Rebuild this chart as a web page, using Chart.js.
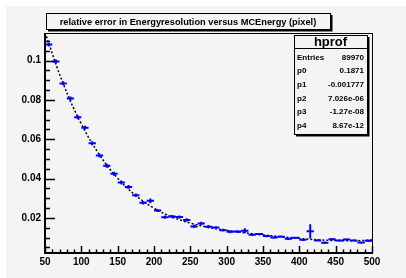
<!DOCTYPE html>
<html>
<head>
<meta charset="utf-8">
<script src="https://cdn.jsdelivr.net/npm/chart.js@4/dist/chart.umd.min.js"></script>
<style>
  body { margin: 0; background: #fff; }
  canvas { display: block; }
</style>
</head>
<body>
<canvas id="myChart" width="406" height="278"></canvas>
<script>
// profile bins (MC energy, pixel) and relative error
const binCenters = [55, 65, 75, 85, 95, 105, 115, 125, 135, 145, 155, 165, 175, 185, 195,
  205, 215, 225, 235, 245, 255, 265, 275, 285, 295, 305, 315, 325, 335, 345,
  355, 365, 375, 385, 395, 405, 415, 425, 435, 445, 455, 465, 475, 485, 495];
const relErr = [0.1082, 0.0995, 0.0884, 0.0807, 0.0712, 0.0659, 0.0580, 0.0517, 0.0465, 0.0425,
  0.0380, 0.0358, 0.0315, 0.0277, 0.0287, 0.0238, 0.0204, 0.0207, 0.0205, 0.0190,
  0.0157, 0.0172, 0.0156, 0.0151, 0.0138, 0.0130, 0.0131, 0.0135, 0.0115, 0.0118,
  0.0108, 0.0101, 0.0105, 0.0094, 0.0099, 0.0089, 0.0132, 0.0086, 0.0074, 0.0092,
  0.0086, 0.0091, 0.0086, 0.0075, 0.0084];
const relErrErr = [0.0010, 0.0010, 0.0010, 0.0010, 0.0010, 0.0010, 0.0010, 0.0010, 0.0010, 0.0010,
  0.0010, 0.0010, 0.0009, 0.0009, 0.0012, 0.0008, 0.0008, 0.0008, 0.0008, 0.0008,
  0.0008, 0.0009, 0.0008, 0.0007, 0.0007, 0.0007, 0.0007, 0.0013, 0.0006, 0.0006,
  0.0006, 0.0006, 0.0006, 0.0006, 0.0006, 0.0006, 0.0036, 0.0006, 0.0006, 0.0006,
  0.0006, 0.0006, 0.0006, 0.0006, 0.0006];
const binHalfWidth = 5;

// pol4 fit curve
const fitX = [50, 75, 100, 125, 150, 175, 200, 225, 250, 275, 300, 325, 350, 375, 400, 425, 450, 475, 500];
const fitY = [0.1143, 0.0883, 0.0678, 0.0521, 0.0402, 0.0314, 0.0250, 0.0205, 0.0174, 0.0152,
  0.0137, 0.0125, 0.0114, 0.0105, 0.0096, 0.0089, 0.0085, 0.0084, 0.0088];

const xTicks = [50, 100, 150, 200, 250, 300, 350, 400, 450, 500];
const yTicks = [0.02, 0.04, 0.06, 0.08, 0.1];
const yTickLabels = ['0.02', '0.04', '0.06', '0.08', '0.1'];

const titleText = 'relative error in Energyresolution versus MCEnergy (pixel)';
const statsName = 'hprof';
const statsLabels = ['Entries', 'p0', 'p1', 'p2', 'p3', 'p4'];
const statsValues = ['89970', '0.1871', '-0.001777', '7.026e-06', '-1.27e-08', '8.67e-12'];

const padGray = '#f4f4f4';
const boldFont = '"Liberation Sans", Arial, Helvetica, sans-serif';

const rootStyle = {
  id: 'rootStyle',
  beforeDraw(chart) {
    const c = chart.ctx;
    c.save();
    c.fillStyle = '#ffffff';
    c.fillRect(0, 0, chart.width, chart.height);
    c.fillStyle = padGray;
    c.fillRect(6, 6, chart.width - 6, chart.height - 6);
    c.restore();
  },
  afterDatasetsDraw(chart) {
    const c = chart.ctx;
    const xs = chart.scales.x, ys = chart.scales.y;
    const a = chart.chartArea;
    c.save();
    // error crosses
    c.strokeStyle = '#0000ff';
    c.lineWidth = 2;
    c.beginPath();
    for (let i = 0; i < binCenters.length; i++) {
      const px = xs.getPixelForValue(binCenters[i]);
      const py = ys.getPixelForValue(relErr[i]);
      c.moveTo(xs.getPixelForValue(binCenters[i] - binHalfWidth), py);
      c.lineTo(xs.getPixelForValue(binCenters[i] + binHalfWidth), py);
      c.moveTo(px, ys.getPixelForValue(relErr[i] - relErrErr[i]));
      c.lineTo(px, ys.getPixelForValue(relErr[i] + relErrErr[i]));
    }
    c.stroke();

    // frame
    c.strokeStyle = '#000';
    c.lineWidth = 1;
    c.strokeRect(Math.round(a.left) + 0.5, Math.round(a.top) + 0.5,
      Math.round(a.right - a.left), Math.round(a.bottom - a.top));
    c.lineWidth = 2;
    c.beginPath();
    c.moveTo(a.left, a.top); c.lineTo(a.left, a.bottom); c.lineTo(a.right, a.bottom);
    c.stroke();

    // inward ticks
    c.lineWidth = 1.5;
    c.beginPath();
    for (let v = 50; v <= 500; v += 10) {
      const px = Math.round(xs.getPixelForValue(v)) + 0.5;
      const len = (v % 50 === 0) ? 7 : 3.5;
      c.moveTo(px, a.bottom); c.lineTo(px, a.bottom - len);
    }
    for (let k = 1; k <= 22; k++) {
      const v = k * 0.005;
      const py = Math.round(ys.getPixelForValue(v)) + 0.5;
      if (py < a.top) continue;
      const len = (k % 4 === 0) ? 10 : 5;
      c.moveTo(a.left, py); c.lineTo(a.left + len, py);
    }
    c.stroke();
    c.restore();
  },
  afterDraw(chart) {
    const c = chart.ctx;
    c.save();
    // title box
    const tb = { l: 46, t: 13, r: 330, b: 29 };
    c.fillStyle = padGray;
    c.fillRect(tb.l, tb.t, tb.r - tb.l, tb.b - tb.t);
    c.strokeStyle = '#000';
    c.lineWidth = 1;
    c.strokeRect(tb.l + 0.5, tb.t + 0.5, tb.r - tb.l, tb.b - tb.t);
    c.lineWidth = 2;
    c.beginPath();
    c.moveTo(tb.r + 1.5, tb.t + 2); c.lineTo(tb.r + 1.5, tb.b + 1.5); c.lineTo(tb.l + 2, tb.b + 1.5);
    c.stroke();
    let fs = 12;
    c.font = 'bold ' + fs + 'px ' + boldFont;
    while (c.measureText(titleText).width > 262 && fs > 6) {
      fs -= 0.25;
      c.font = 'bold ' + fs + 'px ' + boldFont;
    }
    c.fillStyle = '#000';
    c.textAlign = 'center';
    c.textBaseline = 'middle';
    c.fillText(titleText, (tb.l + tb.r) / 2, (tb.t + tb.b) / 2 + 1);

    // stats box
    const sb = { l: 294, t: 35, r: 367, b: 134, h: 48 };
    c.fillStyle = padGray;
    c.fillRect(sb.l, sb.t, sb.r - sb.l, sb.b - sb.t);
    c.lineWidth = 1;
    c.strokeRect(sb.l + 0.5, sb.t + 0.5, sb.r - sb.l, sb.b - sb.t);
    c.beginPath();
    c.moveTo(sb.l, sb.h + 0.5); c.lineTo(sb.r, sb.h + 0.5);
    c.stroke();
    c.lineWidth = 2;
    c.beginPath();
    c.moveTo(sb.r + 1.5, sb.t + 2); c.lineTo(sb.r + 1.5, sb.b + 1.5); c.lineTo(sb.l + 2, sb.b + 1.5);
    c.stroke();
    c.fillStyle = '#000';
    c.font = 'bold 13px ' + boldFont;
    c.textAlign = 'center';
    c.fillText(statsName, (sb.l + sb.r) / 2, (sb.t + sb.h) / 2 + 1);
    c.font = 'bold 8px ' + boldFont;
    for (let i = 0; i < statsLabels.length; i++) {
      const y = 57.5 + i * 13.65;
      c.textAlign = 'left';
      c.fillText(statsLabels[i], sb.l + 3, y);
      c.textAlign = 'right';
      c.fillText(statsValues[i], sb.r - 3, y);
    }
    c.restore();
  }
};

const ctx = document.getElementById('myChart');
const myChart = new Chart(ctx, {
  type: 'scatter',
  data: {
    datasets: [{
      type: 'line',
      data: fitX.map((x, i) => ({ x: x, y: fitY[i] })),
      borderColor: '#000',
      borderWidth: 1.5,
      borderDash: [2, 2],
      pointRadius: 0,
      tension: 0.4,
      fill: false
    }, {
      data: binCenters.map((x, i) => ({ x: x, y: relErr[i] })),
      pointRadius: 0,
      showLine: false
    }]
  },
  options: {
    responsive: false,
    devicePixelRatio: 1,
    animation: false,
    layout: { padding: { left: 0, top: 33, right: 34, bottom: 0 } },
    plugins: {
      legend: { display: false },
      tooltip: { enabled: false },
      title: { display: false }
    },
    scales: {
      x: {
        type: 'linear',
        min: 50,
        max: 500,
        afterFit(scale) { scale.height = 25; },
        afterBuildTicks(scale) { scale.ticks = xTicks.map(v => ({ value: v })); },
        grid: { display: false, drawTicks: false },
        border: { display: false },
        ticks: {
          padding: 3,
          maxRotation: 0,
          autoSkip: false,
          color: '#000',
          font: { family: boldFont, size: 10, weight: 'bold' },
          callback: (v) => String(v)
        }
      },
      y: {
        type: 'linear',
        min: 0.0022,
        max: 0.114,
        afterFit(scale) { scale.width = 45; },
        afterBuildTicks(scale) { scale.ticks = yTicks.map(v => ({ value: v })); },
        grid: { display: false, drawTicks: false },
        border: { display: false },
        ticks: {
          padding: 4,
          autoSkip: false,
          color: '#000',
          font: { family: boldFont, size: 10, weight: 'bold' },
          callback: (v) => {
            const i = yTicks.findIndex(t => Math.abs(t - v) < 1e-9);
            return i >= 0 ? yTickLabels[i] : '';
          }
        }
      }
    }
  },
  plugins: [rootStyle]
});
</script>
</body>
</html>
